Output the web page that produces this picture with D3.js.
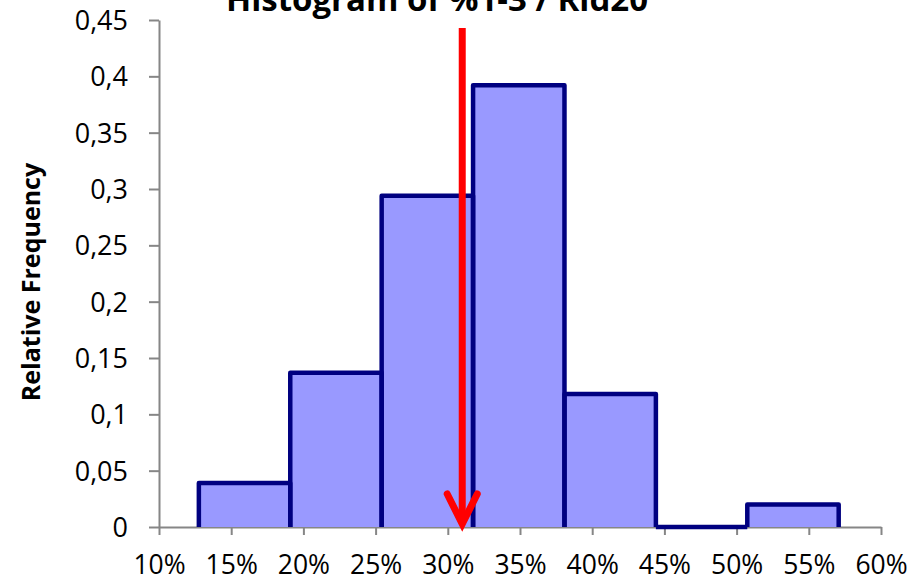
<!DOCTYPE html>
<html>
<head>
<meta charset="utf-8">
<script src="https://cdn.jsdelivr.net/npm/d3@7"></script>
<style>
  html, body { margin: 0; padding: 0; background: #fff; }
  svg { display: block; }
  text { font-family: "Open Sans", "Liberation Sans", sans-serif; fill: #000; }
</style>
</head>
<body>
<svg id="chart" width="913" height="582"></svg>
<script>
// ---- data ----
const chartTitle = "Histogram of %1-3 / Rid20";
const yAxisTitle = "Relative Frequency";
const binEdges = [0.1276, 0.1909, 0.2542, 0.3175, 0.3808, 0.4441, 0.5074, 0.5707];
const relFreq  = [0.039, 0.137, 0.294, 0.392, 0.118, 0.000, 0.020];
const xTicks = [0.10, 0.15, 0.20, 0.25, 0.30, 0.35, 0.40, 0.45, 0.50, 0.55, 0.60];
const yTicks = [0, 0.05, 0.10, 0.15, 0.20, 0.25, 0.30, 0.35, 0.40, 0.45];
const markerValue = [0.31];      // red arrow position
const markerTop = [0.443];       // red arrow top (relative frequency units)

// ---- layout ----
const svg = d3.select("#chart");
const x = d3.scaleLinear().domain([0.10, 0.60]).range([159, 881]);
const y = d3.scaleLinear().domain([0, 0.45]).range([527, 20]);
const axisColor = "#868686";

const bins = relFreq.map((v, i) => ({ x0: binEdges[i], x1: binEdges[i + 1], v }));

// axes
const xAxis = d3.axisBottom(x).tickValues(xTicks).tickSize(8).tickSizeOuter(0)
  .tickFormat(d => Math.round(d * 100) + "%");
const gx = svg.append("g").attr("transform", "translate(0,527)").call(xAxis);
gx.select(".domain").attr("stroke", axisColor).attr("stroke-width", 2);
gx.selectAll(".tick line").attr("stroke", axisColor).attr("stroke-width", 2);
gx.selectAll(".tick text").attr("y", 47).attr("dy", 0)
  .style("font-size", "26.5px").attr("font-family", null);

const fmtY = d => d === 0 ? "0" : String(+d.toFixed(2)).replace(".", ",");
const yAxis = d3.axisLeft(y).tickValues(yTicks).tickSize(10).tickSizeOuter(0).tickFormat(fmtY);
const gy = svg.append("g").attr("transform", "translate(159,0)").call(yAxis);
gy.select(".domain").attr("stroke", axisColor).attr("stroke-width", 2);
gy.selectAll(".tick line").attr("stroke", axisColor).attr("stroke-width", 2);
gy.selectAll(".tick text").attr("x", -31).attr("dy", "0.35em")
  .style("font-size", "27px").attr("font-family", null);
svg.selectAll(".tick text").attr("fill", "#000");

// bars (fill)
svg.append("g").selectAll("rect").data(bins).join("rect")
  .attr("x", d => x(d.x0))
  .attr("y", d => y(d.v))
  .attr("width", d => x(d.x1) - x(d.x0))
  .attr("height", d => y(0) - y(d.v))
  .attr("fill", "#9999FF");

// bar outlines
svg.append("g").selectAll("path").data(bins).join("path")
  .attr("d", d => `M${x(d.x0)},${y(0)}V${y(d.v)}H${x(d.x1)}V${y(0)}`)
  .attr("fill", "none")
  .attr("stroke", "#000080")
  .attr("stroke-width", 4.5)
  .attr("stroke-linejoin", "round");

// red arrow
const ax = x(markerValue[0]);
const tipY = y(0) - 3;
svg.append("line")
  .attr("x1", ax).attr("x2", ax)
  .attr("y1", y(markerTop[0])).attr("y2", tipY)
  .attr("stroke", "#FF0000").attr("stroke-width", 7);
svg.append("path")
  .attr("d", `M${ax - 15},${tipY - 30}L${ax},${tipY}L${ax + 15},${tipY - 30}`)
  .attr("fill", "none").attr("stroke", "#FF0000").attr("stroke-width", 7)
  .attr("stroke-linecap", "round").attr("stroke-linejoin", "miter");

// titles
svg.append("text")
  .attr("x", 437).attr("y", 11)
  .attr("text-anchor", "middle")
  .style("font-size", "33px").style("font-weight", "bold")
  .text(chartTitle);

svg.append("text")
  .attr("transform", "translate(40,282) rotate(-90)")
  .attr("text-anchor", "middle")
  .style("font-size", "25px").style("font-weight", "bold")
  .text(yAxisTitle);
</script>
</body>
</html>
